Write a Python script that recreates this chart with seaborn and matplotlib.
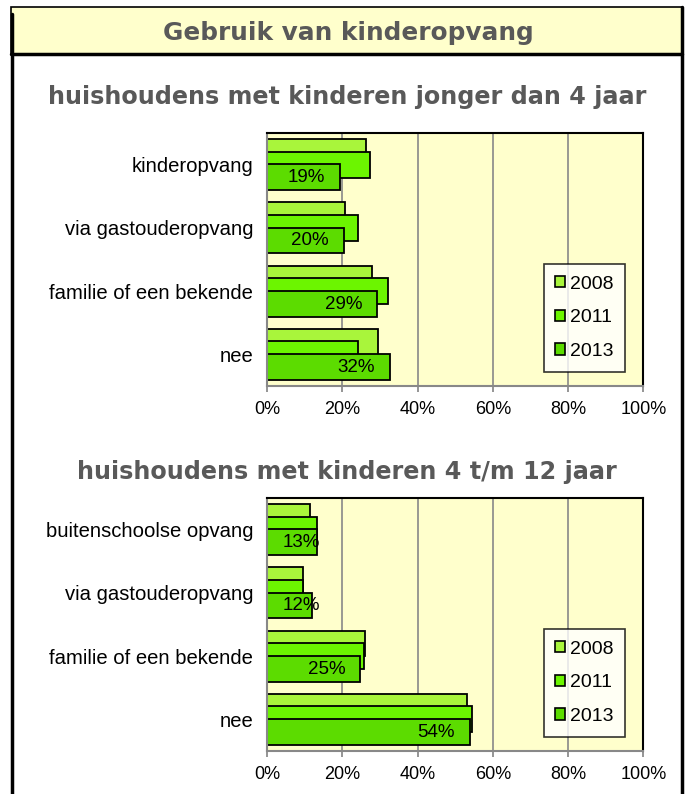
import matplotlib
matplotlib.use("Agg")
import matplotlib.pyplot as plt
import matplotlib.ticker as mticker
from matplotlib.patches import Rectangle
from matplotlib.lines import Line2D
import seaborn as sns
import pandas as pd

# ---------------------------------------------------------------------------
# data (percentages)
# ---------------------------------------------------------------------------
years = ["2008", "2011", "2013"]

cats_young = ["kinderopvang", "via gastouderopvang", "familie of een bekende", "nee"]
young_2008 = [26.4, 20.6, 27.9, 29.5]
young_2011 = [27.3, 24.3, 32.2, 24.3]
young_2013 = [19.4, 20.4, 29.3, 32.6]
labels_young = ["19%", "20%", "29%", "32%"]

cats_old = ["buitenschoolse opvang", "via gastouderopvang", "familie of een bekende", "nee"]
old_2008 = [11.4, 9.6, 26.0, 53.0]
old_2011 = [13.2, 9.5, 25.8, 54.5]
old_2013 = [13.3, 12.0, 24.8, 53.8]
labels_old = ["13%", "12%", "25%", "54%"]

title = "Gebruik van kinderopvang"
sub_young = "huishoudens met kinderen jonger dan 4 jaar"
sub_old = "huishoudens met kinderen 4 t/m 12 jaar"

colors = ["#a9f53b", "#6cf500", "#5cdc00"]
PANEL = "#ffffcc"
GREY_TXT = "#595959"

sns.set_theme(style="white")
plt.rcParams["font.family"] = ["Liberation Sans", "DejaVu Sans"]

W, H = 685, 794
fig = plt.figure(figsize=(W / 100, H / 100), dpi=100)


def fx(px):
    return px / W


def fy(py):
    return 1 - py / H


def draw_panel(rect, cats, vals, labels):
    ax = fig.add_axes(rect)
    df = pd.DataFrame({
        "cat": cats * 3,
        "year": [y for y in years for _ in cats],
        "val": vals[0] + vals[1] + vals[2],
    })
    sns.barplot(data=df, y="cat", x="val", hue="year", order=cats,
                hue_order=years, palette=colors, orient="h", width=0.6,
                dodge=True, edgecolor="black", linewidth=1.3, saturation=1,
                errorbar=None, ax=ax, legend=False)
    # let the three year bars overlap like the original chart
    for p in ax.patches:
        c = p.get_y() + p.get_height() / 2
        p.set_height(0.41)
        p.set_y(c - 0.205)

    # value labels inside the 2013 bars
    for i, (v, lab) in enumerate(zip(vals[2], labels)):
        ax.text(max(v - 4, 14), i + 0.205, lab, ha="right", va="center",
                fontsize=13.5, color="black")

    ax.set_facecolor(PANEL)
    ax.set_xlim(0, 100)
    ax.set_ylim(3.5, -0.5)
    ax.xaxis.set_major_locator(mticker.MultipleLocator(20))
    ax.xaxis.set_major_formatter(mticker.FuncFormatter(lambda x, _: f"{x:.0f}%"))
    ax.grid(axis="x", color="#888888", linewidth=1.2)
    ax.set_axisbelow(True)
    ax.set_xlabel("")
    ax.set_ylabel("")
    ax.tick_params(axis="x", labelsize=13, length=4, color="#888888",
                   bottom=True, pad=7, labelcolor="black")
    ax.tick_params(axis="y", labelsize=14.6, length=0, pad=10, labelcolor="black")
    for s in ("left", "bottom"):
        ax.spines[s].set_color("#888888")
        ax.spines[s].set_linewidth(1.5)
    for s in ("top", "right"):
        ax.spines[s].set_color("black")
        ax.spines[s].set_linewidth(1.5)

    handles = [Rectangle((0, 0), 1, 1, facecolor=c, edgecolor="black", lw=1.2)
               for c in colors]
    leg = ax.legend(handles, years, loc="lower right",
                    bbox_to_anchor=(0.951, 0.057), frameon=True, fancybox=False,
                    fontsize=14, handlelength=0.5, handleheight=0.5,
                    handletextpad=0.25, labelspacing=0.85, borderpad=0.6,
                    borderaxespad=0, labelcolor="black")
    leg.get_frame().set_edgecolor("black")
    leg.get_frame().set_linewidth(1.2)
    leg.get_frame().set_facecolor("white")
    return ax


# title band and outer frame
fig.patches.append(Rectangle((fx(11), fy(54)), fx(682) - fx(11), fy(7) - fy(54),
                             transform=fig.transFigure, facecolor=PANEL,
                             edgecolor="black", linewidth=1.2, zorder=0))
fig.lines.append(Line2D([fx(11), fx(682)], [fy(54), fy(54)],
                        transform=fig.transFigure, color="black", lw=2.5))
fig.lines.append(Line2D([fx(12), fx(12)], [fy(14), 0],
                        transform=fig.transFigure, color="black", lw=2.5))
fig.lines.append(Line2D([fx(682), fx(682)], [fy(7), 0],
                        transform=fig.transFigure, color="black", lw=2.5))
fig.text(fx(348), fy(33), title, ha="center", va="center", fontsize=17.8,
         fontweight="bold", color=GREY_TXT, family="DejaVu Sans")
fig.text(fx(347), fy(97), sub_young, ha="center", va="center", fontsize=17.2,
         fontweight="bold", color=GREY_TXT, family="DejaVu Sans")
fig.text(fx(347), fy(472), sub_old, ha="center", va="center", fontsize=17.2,
         fontweight="bold", color=GREY_TXT, family="DejaVu Sans")

ax1 = draw_panel([fx(267), fy(386), fx(643.5) - fx(267), fy(133) - fy(386)],
                 cats_young, [young_2008, young_2011, young_2013], labels_young)
ax2 = draw_panel([fx(267), fy(751), fx(643.5) - fx(267), fy(498) - fy(751)],
                 cats_old, [old_2008, old_2011, old_2013], labels_old)

fig.savefig("out.png", dpi=100)
